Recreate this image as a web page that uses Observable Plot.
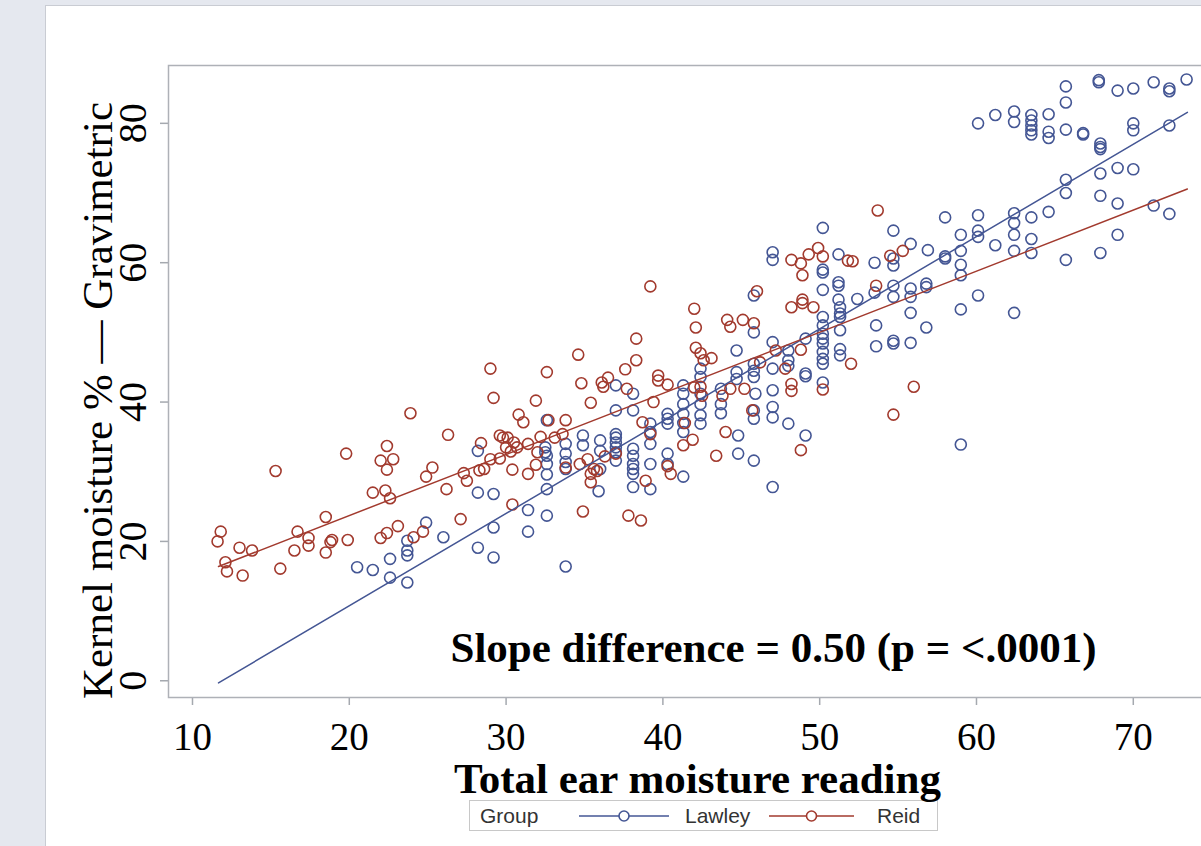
<!DOCTYPE html>
<html>
<head>
<meta charset="utf-8">
<script src="https://cdn.jsdelivr.net/npm/d3@7"></script>
<script src="https://cdn.jsdelivr.net/npm/@observablehq/plot@0.6"></script>
<style>
  html, body { margin: 0; padding: 0; width: 1201px; height: 846px; overflow: hidden; background: #e5e8ef; }
  #panel { position: absolute; left: 45px; top: 5px; width: 1300px; height: 900px; background: #ffffff;
           border-left: 1px solid #c9ccd3; border-top: 1px solid #c9ccd3; }
  #chart { position: absolute; left: 0; top: 0; width: 1240px; height: 817px; }
  #chart svg { max-width: none !important; }
  #legend { position: absolute; left: 469px; top: 800px; width: 467px; height: 29px; background: #fff;
            border: 1px solid #c8c8c8; font-family: 'Liberation Sans', Arial, sans-serif; font-size: 21px; color: #333; }
  #legend .item { position: absolute; top: 0; height: 29px; line-height: 29px; white-space: nowrap; }
  #legend svg { position: absolute; top: 0; }
</style>
</head>
<body>
<div id="panel"></div>
<div id="legend"></div>
<div id="chart"></div>
<script>
// ---- data ----
const groups = ["Lawley", "Reid"];
const groupColors = ["#445694", "#a23a2e"];
const xTicks = [10, 20, 30, 40, 50, 60, 70];
const yTicks = [0, 20, 40, 60, 80];
const xTitle = "Total ear moisture reading";
const yTitle = "Kernel moisture % \u2014 Gravimetric";
const annotation = "Slope difference = 0.50 (p = <.0001)";

// fitted lines (intercept, slope) per group and x range of the fit
const fitIntercepts = [-15.75, 6.17];
const fitSlopes = [1.325, 0.877];
const fitRange = [11.66, 73.45];

const lawley = [
  [28.2,33.0],[28.2,27.0],[29.2,26.8],[24.9,22.7],[26.0,20.6],[23.7,20.1],[23.7,18.7],[23.7,18.0],[22.6,17.5],[20.5,16.3],[21.5,15.9],[22.6,14.8],[23.7,14.1],[28.2,19.1],[29.2,17.7],[29.2,22.0],
  [32.6,37.4],[32.5,33.5],[32.5,32.8],[32.6,32.3],[32.6,31.1],[32.6,29.6],[32.6,27.5],[33.8,34.0],[33.8,32.6],[33.8,31.4],[33.8,30.4],[34.9,35.2],[34.9,33.8],[36.0,34.5],[36.0,33.0],[36.0,30.4],[37.0,35.4],[37.0,34.9],[37.0,34.2],[37.0,33.5],[37.0,32.8],[37.0,31.6],[37.0,42.4],[38.1,41.2],[37.0,38.8],[38.1,38.8],[38.1,33.3],[38.1,32.3],[38.1,31.1],[38.1,30.4],[38.1,29.7],[38.1,27.8],[39.2,36.9],[39.2,35.7],[39.2,34.0],[39.2,31.1],[39.2,27.5],[35.9,27.2],[40.3,38.3],[40.3,37.6],[40.3,36.9],[40.3,32.6],[40.3,31.1],[41.3,42.4],[41.3,41.2],[41.3,39.7],[41.3,38.3],[41.3,37.0],[41.3,35.7],[41.3,29.3],[42.4,44.8],[42.4,43.6],[42.4,41.2],[42.4,39.7],[42.4,38.1],[42.4,36.9],[43.7,41.9],[43.7,39.7],[43.7,38.4],[44.7,47.4],[44.7,44.3],[44.7,43.3],[44.8,35.2],[44.8,32.6],[45.8,50.0],[45.8,45.5],[45.8,44.5],[45.8,43.6],[45.9,41.2],[45.8,38.8],[45.8,37.6],[45.8,31.6],[47.0,48.6],[47.0,44.8],[47.0,41.7],[47.0,39.3],[47.0,37.8],[48.0,46.0],[48.0,45.2],[48.0,47.4],[48.0,36.9],[49.1,49.1],[49.1,44.1],[49.1,43.7],[49.1,35.2],[50.2,52.2],[50.2,51.0],[50.2,49.8],[50.2,49.1],[50.2,48.4],[50.2,47.2],[50.2,46.2],[50.2,45.5],[50.2,42.8],[51.3,53.6],[51.3,52.7],[51.3,52.2],[51.3,50.3],[51.3,47.6],[51.3,46.7],[47.0,27.8],[33.8,16.4],[31.4,24.5],[31.4,21.4],[32.6,23.7],
  [50.2,65.0],[47.0,61.5],[47.0,60.4],[50.2,59.0],[50.2,58.6],[51.2,61.2],[50.2,56.1],[51.2,57.2],[51.2,56.7],[45.8,55.3],[51.2,54.7],
  [65.7,85.3],[65.7,83.0],[67.8,86.2],[67.8,85.9],[69.0,84.7],[70.0,85.0],[71.3,85.9],[72.3,85.0],[72.3,84.6],[73.4,86.3],[60.1,80.0],[61.2,81.2],[62.4,81.7],[62.4,80.2],[63.5,81.2],[63.5,80.4],[63.5,79.7],[63.5,79.0],[63.5,78.4],[64.6,81.3],[64.6,78.8],[64.6,77.9],[65.7,79.1],[66.8,78.6],[66.8,78.4],[67.9,77.1],[67.9,76.6],[67.9,76.3],[70.0,80.0],[70.0,79.0],[72.3,79.7],[65.7,71.9],[65.7,70.0],[67.9,72.8],[69.0,73.6],[70.0,73.4],[67.9,69.6],[69.0,68.5],[71.3,68.2],[72.3,67.0],[64.6,67.3],[63.5,66.5],[62.4,67.1],[62.4,65.7],[62.4,64.0],[63.5,63.4],[62.4,61.7],[63.5,61.4],[65.7,60.4],[67.9,61.4],[69.0,64.0],[61.2,62.5],[60.1,66.8],[60.1,64.6],[60.1,63.7],[59.0,64.0],[59.0,61.7],[59.0,59.7],[59.0,58.2],[58.0,66.5],[58.0,60.9],[58.0,60.6],[56.9,61.8],[55.8,62.7],[54.7,64.6],[54.7,60.6],[54.7,59.6],[53.5,60.0],[54.7,56.7],[53.5,55.7],[55.8,56.3],[55.8,55.1],[56.8,57.0],[56.8,56.5],[60.1,55.3],[54.7,55.1],[52.4,54.8],
  [55.8,52.8],[59.0,53.3],[62.4,52.8],[53.6,51.0],[56.8,50.7],[53.6,48.0],[54.7,48.8],[54.7,48.4],[55.8,48.5],[59.0,33.9]
];

const reid = [
  [29.0,44.8],[29.2,40.6],[23.9,38.4],[29.6,35.2],[26.3,35.3],[19.8,32.6],[22.4,33.7],[22.0,31.6],[22.8,31.8],[22.4,30.3],[15.3,30.1],[28.4,34.1],[29.0,31.8],[25.3,30.6],[24.9,29.3],[27.3,29.8],[27.5,28.7],[28.3,30.2],[28.6,30.4],[21.5,27.0],[22.3,27.3],[22.6,26.2],[26.2,27.5],[18.5,23.5],[27.1,23.2],[11.8,21.4],[11.6,20.0],[13.0,19.1],[13.8,18.7],[16.7,21.4],[17.4,20.5],[17.4,19.4],[16.5,18.7],[18.5,18.4],[18.9,20.2],[18.8,19.9],[19.9,20.2],[12.1,17.0],[12.2,15.7],[13.2,15.1],[15.6,16.1],[22.0,20.5],[22.4,21.2],[23.1,22.2],[24.1,20.6],[24.7,21.4],
  [42.0,53.4],[42.1,50.7],[38.3,49.1],[34.6,46.8],[38.3,46.0],[32.6,44.3],[37.6,44.7],[36.5,43.5],[36.1,42.8],[36.2,42.2],[34.8,42.7],[39.7,43.8],[39.7,43.1],[40.3,42.5],[37.7,41.9],[31.9,40.2],[35.4,39.9],[39.4,40.0],[30.8,38.2],[31.1,37.1],[32.7,37.4],[33.8,37.4],[38.7,37.1],[39.2,35.4],[29.8,34.9],[30.1,34.9],[30.5,34.2],[30.0,33.5],[30.3,32.9],[30.7,33.5],[31.4,34.0],[32.2,35.0],[33.1,34.9],[33.6,35.4],[32.0,32.8],[29.6,31.9],[31.9,31.0],[30.4,30.3],[31.4,29.7],[33.8,30.6],[34.7,31.1],[35.2,31.8],[35.6,30.4],[35.8,30.1],[35.4,29.7],[36.3,32.2],[37.0,32.6],[35.4,28.5],[38.9,28.7],[40.3,30.8],[40.5,29.7],[41.3,33.8],[41.9,34.6],[41.4,37.0],[42.1,47.8],[42.4,47.0],[42.6,46.0],[43.1,46.3],[42.0,42.1],[42.4,42.2],[42.5,40.9],[43.8,40.9],[44.3,41.9],[45.2,41.9],[45.7,38.8],[44.0,35.7],[43.4,32.3],[30.4,25.3],[34.9,24.3],[37.8,23.7],[38.6,23.0],[44.1,51.8],[44.3,50.8],[45.1,51.8],[45.8,51.3],[48.2,53.6],[48.9,54.2],[49.6,53.6],[47.2,47.4],[46.2,45.7],[48.8,47.5],[47.8,44.8],[48.2,42.6],[48.2,41.6],[50.2,41.8],[48.8,33.1],[52.0,45.5],
  [39.2,56.6],[46.0,55.9],[48.2,60.4],[48.8,59.9],[48.9,58.2],[49.3,61.2],[49.9,62.1],[50.2,60.9],[51.8,60.3],[48.9,54.7],
  [53.7,67.5],[54.5,61.0],[55.3,61.7],[52.1,60.2],[53.6,56.7],[56.0,42.2],[54.7,38.2]
];

// ---- build tables ----
const points = [
  ...lawley.map(([x, y]) => ({group: groups[0], x, y})),
  ...reid.map(([x, y]) => ({group: groups[1], x, y}))
];
const fitLines = groups.flatMap((g, i) =>
  fitRange.map(x => ({group: g, x, y: fitIntercepts[i] + fitSlopes[i] * x})));

const serif = "'Liberation Serif', 'Times New Roman', Times, serif";

const chart = Plot.plot({
  width: 1240,
  height: 817,
  marginLeft: 168,
  marginRight: 10,
  marginTop: 65,
  marginBottom: 120,
  style: {background: "transparent", fontFamily: serif, color: "black", overflow: "visible", maxWidth: "none"},
  x: {domain: [8.47, 76.2], label: null},
  y: {domain: [-2.4, 88.3], label: null},
  color: {domain: groups, range: groupColors},
  marks: [
    Plot.axisX(xTicks, {tickSize: 8, tickPadding: 17, fontSize: 39, stroke: "#a5a9af", strokeWidth: 1.5, fill: "black", label: null}),
    Plot.axisY(yTicks, {tickSize: 8, stroke: "#a5a9af", strokeWidth: 1.5, fill: "none", label: null}),
    Plot.text(yTicks, {y: d => d, text: d => String(d), frameAnchor: "left", rotate: -90, dx: -35,
      fontSize: 40, textAnchor: "middle", lineAnchor: "middle", fill: "black"}),
    Plot.text([yTitle], {frameAnchor: "left", rotate: -90, dx: -70, dy: 19, fontSize: 43,
      textAnchor: "middle", lineAnchor: "middle", fill: "black"}),
    Plot.text([xTitle], {frameAnchor: "bottom", dx: -2, dy: 82, fontSize: 43, fontWeight: "bold",
      textAnchor: "middle", lineAnchor: "middle", fill: "black"}),
    Plot.dot(points, {x: "x", y: "y", stroke: "group", r: 5.5, strokeWidth: 1.6, fill: "none"}),
    Plot.line(fitLines, {x: "x", y: "y", z: "group", stroke: "group", strokeWidth: 1.5}),
    Plot.text([annotation], {frameAnchor: "bottom-left", dx: 282, dy: -49, fontSize: 43, fontWeight: "bold",
      textAnchor: "start", lineAnchor: "middle", fill: "black"}),
    Plot.frame({stroke: "#aeb1b7", strokeWidth: 1.5})
  ]
});
chart.style.maxWidth = "none";
document.getElementById("chart").appendChild(chart);

// ---- legend ----
const legend = document.getElementById("legend");
const addText = (txt, left) => {
  const s = document.createElement("span");
  s.className = "item"; s.textContent = txt; s.style.left = left + "px";
  legend.appendChild(s);
};
const addSwatch = (color, left, w) => {
  const ns = "http://www.w3.org/2000/svg";
  const svg = document.createElementNS(ns, "svg");
  svg.setAttribute("width", w); svg.setAttribute("height", 29);
  svg.style.left = left + "px";
  const line = document.createElementNS(ns, "line");
  line.setAttribute("x1", 0); line.setAttribute("x2", w);
  line.setAttribute("y1", 15); line.setAttribute("y2", 15);
  line.setAttribute("stroke", color); line.setAttribute("stroke-width", 1.5);
  const c = document.createElementNS(ns, "circle");
  c.setAttribute("cx", w / 2); c.setAttribute("cy", 15); c.setAttribute("r", 5);
  c.setAttribute("fill", "white"); c.setAttribute("stroke", color); c.setAttribute("stroke-width", 1.6);
  svg.appendChild(line); svg.appendChild(c);
  legend.appendChild(svg);
};
addText("Group", 10);
addSwatch(groupColors[0], 109, 90);
addText(groups[0], 215);
addSwatch(groupColors[1], 299, 85);
addText(groups[1], 407);
</script>
</body>
</html>
